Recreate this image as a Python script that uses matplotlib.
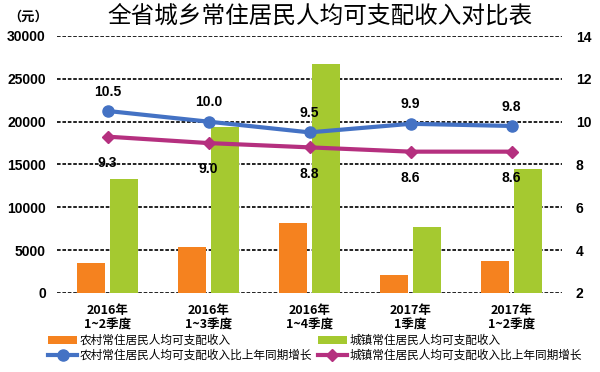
import numpy as np
import matplotlib
matplotlib.use("Agg")
import matplotlib.pyplot as plt

plt.rcParams['font.family'] = ['Noto Sans CJK SC', 'DejaVu Sans']

categories = ["2016年\n1~2季度", "2016年\n1~3季度", "2016年\n1~4季度", "2017年\n1季度", "2017年\n1~2季度"]
rural_income = [3460, 5350, 8140, 2090, 3720]
urban_income = [13280, 19400, 26740, 7670, 14530]
rural_growth = [10.5, 10.0, 9.5, 9.9, 9.8]
urban_growth = [9.3, 9.0, 8.8, 8.6, 8.6]

left_ticks = [0, 5000, 10000, 15000, 20000, 25000, 30000]
right_ticks = [2, 4, 6, 8, 10, 12, 14]

c_orange = "#F5821F"
c_green = "#A5C930"
c_blue = "#4472C4"
c_mag = "#B5307F"

fig = plt.figure(figsize=(6, 3.72), dpi=100)
ax = fig.add_axes([57 / 600, 79 / 372, 505 / 600, 257 / 372])

x = np.arange(len(categories))
w = 0.28
b1 = ax.bar(x - 0.165, rural_income, w, color=c_orange, label="农村常住居民人均可支配收入")
b2 = ax.bar(x + 0.165, urban_income, w, color=c_green, label="城镇常住居民人均可支配收入")

ax.set_xlim(-0.5, len(categories) - 0.5)
ax.set_ylim(0, 30000)
ax.set_yticks(left_ticks)
ax.set_yticklabels([str(v) for v in left_ticks], fontfamily="Liberation Sans",
                   fontweight="bold", fontsize=10)
ax.set_xticks(x)
ax.set_xticklabels(categories, fontweight="bold", fontsize=9, linespacing=1.15)
ax.tick_params(length=0, axis="y", pad=8)
ax.tick_params(length=0, axis="x", pad=8)
ax.grid(axis="y", color="#111111", linestyle=(0, (2, 1)), linewidth=1.3)
ax.set_axisbelow(True)
for s in ax.spines.values():
    s.set_visible(False)

ax2 = ax.twinx()
ax2.set_ylim(2, 14)
ax2.set_yticks(right_ticks)
ax2.set_yticklabels([str(v) for v in right_ticks], fontfamily="Liberation Sans",
                    fontweight="bold", fontsize=10)
ax2.tick_params(length=0, pad=10)
for s in ax2.spines.values():
    s.set_visible(False)

l1, = ax2.plot(x, rural_growth, color=c_blue, lw=3, marker="o", ms=8,
               label="农村常住居民人均可支配收入比上年同期增长")
l2, = ax2.plot(x, urban_growth, color=c_mag, lw=3, marker="D", ms=6.5,
               label="城镇常住居民人均可支配收入比上年同期增长")

for xi, v in zip(x, rural_growth):
    ax2.annotate(f"{v:.1f}", (xi, v), xytext=(0, 14), textcoords="offset points",
                 ha="center", va="center", fontfamily="Liberation Sans",
                 fontweight="bold", fontsize=10)
for xi, v in zip(x, urban_growth):
    ax2.annotate(f"{v:.1f}", (xi, v), xytext=(0, -19), textcoords="offset points",
                 ha="center", va="center", fontfamily="Liberation Sans",
                 fontweight="bold", fontsize=10)

fig.text(320 / 600, 1 - 17 / 372, "全省城乡常住居民人均可支配收入对比表",
         ha="center", va="center", fontsize=17)
fig.text(8 / 600, 1 - 17 / 372, "（元）", ha="left", va="center",
         fontsize=9.5, fontweight="bold")

fig.legend([b1, l1, b2, l2], [b1.get_label(), l1.get_label(), b2.get_label(), l2.get_label()],
           loc="upper left", bbox_to_anchor=(48 / 600, 1 - 334 / 372), ncol=2,
           frameon=False, fontsize=8.4, handlelength=2.5, handletextpad=0.2,
           columnspacing=0.5, labelspacing=0.15, borderpad=0, borderaxespad=0)

fig.savefig("out.png", dpi=100)
